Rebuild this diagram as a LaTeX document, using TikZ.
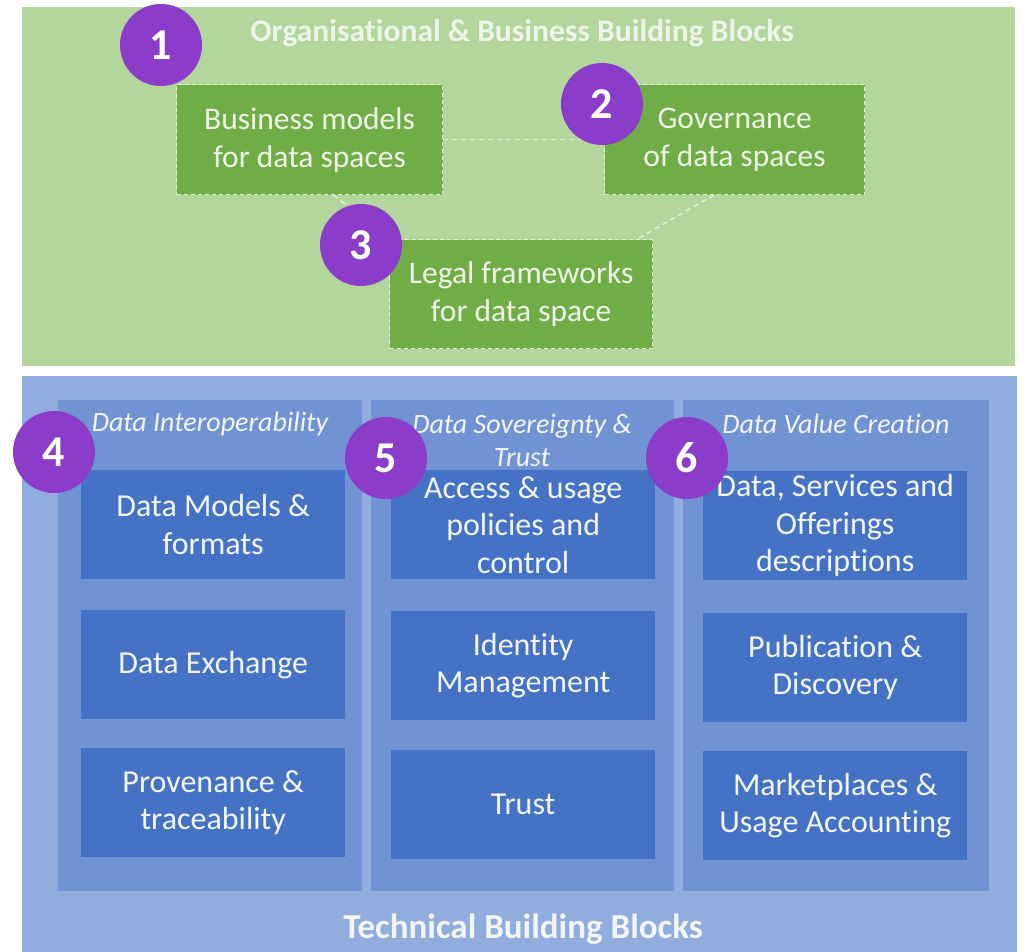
\documentclass[tikz,border=0pt]{standalone}
\usepackage{fontspec}
\setmainfont{Carlito}[Ligatures=NoCommon]
\usetikzlibrary{calc}
\definecolor{gpanel}{HTML}{B3D69C}
\definecolor{gbox}{HTML}{70AD47}
\definecolor{gline}{HTML}{E4F0DC}
\definecolor{bpanel}{HTML}{90ADDD}
\definecolor{bcol}{HTML}{7193D4}
\definecolor{bbox}{HTML}{4572C4}
\definecolor{ptext}{HTML}{F2F5FA}
\definecolor{gtext}{HTML}{EEF5E8}
\definecolor{badge}{HTML}{8B3CC8}
\begin{document}
\begin{tikzpicture}[x=1pt,y=-1pt,
  panel/.style={anchor=north west, inner sep=0pt, outer sep=0pt},
  gbx/.style={anchor=north west, inner sep=0pt, fill=gbox, draw=gline, dashed, line width=1.2pt,
     dash pattern=on 4pt off 3pt, text=gtext, align=center, font=\fontsize{31.5}{38}\selectfont},
  bbx/.style={anchor=north west, inner sep=0pt, fill=bbox, text=ptext, align=center,
     font=\fontsize{32}{37.5}\selectfont, minimum width=264pt, minimum height=109pt},
  colst/.style={anchor=north west, inner sep=0pt, fill=bcol, minimum height=491pt},
  hdr/.style={text=ptext, align=center, font=\fontsize{28}{33}\selectfont\itshape},
  ttl/.style={font=\fontsize{31.5}{34}\selectfont\bfseries},
  conn/.style={draw=gline, line width=1.5pt, dash pattern=on 5pt off 4pt},
  num/.style={circle, fill=badge, minimum size=82pt, inner sep=0pt, text=white,
     font=\fontsize{44}{46}\selectfont\bfseries}
]
\useasboundingbox (0,0) rectangle (1030,951);
\fill[white] (0,0) rectangle (1030,951);

% panels
\node[panel, fill=gpanel, minimum width=993pt, minimum height=359pt] (green) at (22,7) {};
\node[panel, fill=bpanel, minimum width=995pt, minimum height=576pt] (blue) at (22,376) {};

\node[ttl, text=gtext] (gtitle) at (522,33) {Organisational \& Business Building Blocks};
\node[ttl, text=ptext, font=\fontsize{35}{38}\selectfont\bfseries] (btitle) at (523,929) {Technical Building Blocks};

% green boxes
\node[gbx, minimum width=266pt, minimum height=110pt] (bm) at (176,84) {Business models\\for data spaces};
\node[gbx, minimum width=260pt, minimum height=110pt] (gov) at (604,84) {Governance\\of data spaces};
\node[gbx, minimum width=263pt, minimum height=109pt] (legal) at (389,239) {Legal frameworks\\for data space};

\draw[conn] (bm.east) -- (gov.west);
\draw[conn] ($(bm.south west)!0.59!(bm.south east)$) -- (legal.north west);
\draw[conn] ($(gov.south west)!0.42!(gov.south east)$) -- ($(legal.north west)!0.94!(legal.north east)$);

% columns
\node[colst, minimum width=304pt] (c1) at (58,400) {};
\node[colst, minimum width=303pt] (c2) at (371,400) {};
\node[colst, minimum width=306pt] (c3) at (683,400) {};

\node[hdr] (h1) at (210,424) {Data Interoperability};
\node[hdr] (h2) at (522,440.5) {Data Sovereignty \&\\Trust};
\node[hdr] (h3) at (836,424) {Data Value Creation};

% blue boxes
\node[bbx] (a1) at (81,470) {Data Models \&\\formats};
\node[bbx] (a2) at (81,610) {Data Exchange};
\node[bbx] (a3) at (81,748) {Provenance \&\\traceability};

\node[bbx] (b1) at (391,470) {Access \& usage\\policies and\\control};
\node[bbx] (b2) at (391,611) {Identity\\Management};
\node[bbx] (b3) at (391,750) {Trust};

\node[bbx] (d1) at (703,471) {Data, Services and\\Offerings\\descriptions};
\node[bbx] (d2) at (703,613) {Publication \&\\Discovery};
\node[bbx] (d3) at (703,751) {Marketplaces \&\\Usage Accounting};

% badges
\node[num] (n1) at (161,45) {1};
\node[num] (n2) at (602,104) {2};
\node[num] (n3) at (361,245) {3};
\node[num] (n4) at (54,452) {4};
\node[num] (n5) at (386,458) {5};
\node[num] (n6) at (687,458) {6};
\end{tikzpicture}
\end{document}
